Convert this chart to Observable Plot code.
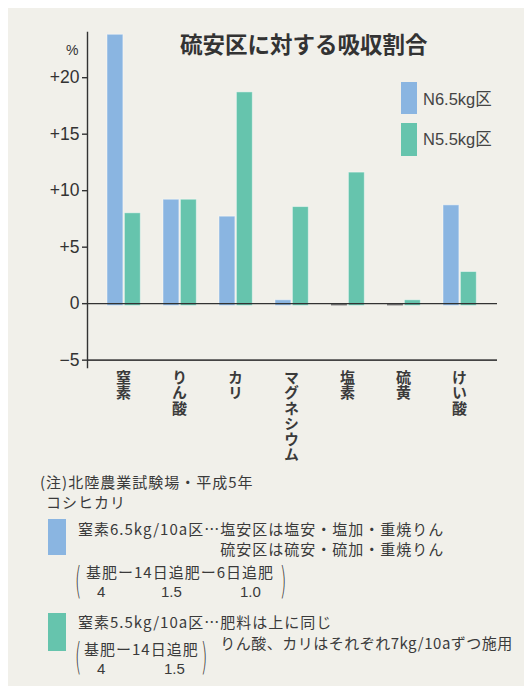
<!DOCTYPE html>
<html>
<head>
<meta charset="utf-8">
<script src="https://cdn.jsdelivr.net/npm/d3@7"></script>
<script src="https://cdn.jsdelivr.net/npm/@observablehq/plot@0.6"></script>
<style>
  html, body { margin: 0; padding: 0; background: #ffffff; }
  #wrap { position: relative; width: 524px; height: 686px; overflow: hidden;
          font-family: "Noto Sans CJK JP", "Noto Sans", sans-serif; color: #333; }
  #panel { position: absolute; left: 8px; top: 8px; right: 0; bottom: 0; background: #f1f0ea; }
  #chart { position: absolute; left: 0; top: 0; }
  .t { position: absolute; white-space: pre; line-height: 16px; }
  .sw { position: absolute; }
  .paren { position: absolute; font-family: "DejaVu Sans", sans-serif; font-weight: 300; font-size: 20px; line-height: 20px; transform: scale(0.8, 1.9); transform-origin: 0 0; color: #333; }
</style>
</head>
<body>
<div id="wrap">
  <div id="panel"></div>
  <div id="chart"></div>
</div>
<script>
// ---- data ----
const categories = ["窒素", "りん酸", "カリ", "マグネシウム", "塩素", "硫黄", "けい酸"];
const seriesNames = ["N6.5kg区", "N5.5kg区"];
const n65 = [23.8, 9.2, 7.7, 0.3, 0, 0, 8.7];
const n55 = [8.0, 9.2, 18.7, 8.55, 11.6, 0.3, 2.8];
const yTicks = [-5, 0, 5, 10, 15, 20];
const yTickLabels = ["−5", "0", "+5", "+10", "+15", "+20"];
const barBase = -0.2;

const blue = "#8ab5e1";
const green = "#66c4ad";
const zeroGray = "#7a7a7a";

const rows65 = categories.map((c, i) => ({cat: c, v: n65[i]}));
const rows55 = categories.map((c, i) => ({cat: c, v: n55[i]}));

const chart = Plot.plot({
  width: 524,
  height: 480,
  marginTop: 32,
  marginBottom: 113,
  marginLeft: 87,
  marginRight: 27,
  style: {background: "transparent", fontFamily: "'Noto Sans CJK JP', sans-serif", color: "#333"},
  x: {domain: categories, range: [93.6, 490.6], padding: 0, axis: null},
  y: {domain: [-5.65, 24], axis: null},
  marks: [
    Plot.barY(rows65, {x: "cat", y1: barBase, y2: "v", fill: d => d.v === 0 ? zeroGray : blue,
      insetLeft: 11, insetRight: 29.1, stroke: "#ffffff", strokeOpacity: d => d.v === 0 ? 0 : 0.45}),
    Plot.barY(rows55, {x: "cat", y1: barBase, y2: "v", fill: green,
      insetLeft: 28.4, insetRight: 11.7, stroke: "#ffffff", strokeOpacity: 0.45}),
    Plot.ruleY([0], {stroke: "#333", strokeWidth: 1.4}),
    Plot.ruleY([-5], {stroke: "#444", strokeWidth: 1.6}),
    Plot.frame({anchor: "left", stroke: "#333", strokeWidth: 1.4}),
    Plot.axisY({ticks: yTicks, tickFormat: (d) => yTickLabels[yTicks.indexOf(d)], tickSize: 5, tickPadding: 3,
      fontSize: 17.5, fontFamily: "'Liberation Sans', Arial, sans-serif", label: null, strokeWidth: 1.4, color: "#333"}),
    Plot.text(categories, {x: d => d, text: d => d, frameAnchor: "bottom",
      textAnchor: "start", lineAnchor: "bottom", dy: 2, dx: -1, fontSize: 15, fontWeight: "bold", fill: "#3a3a3a"})
  ]
});
// vertical (tategaki) writing for the category labels
chart.querySelectorAll('g[aria-label="text"] text').forEach(t => {
  t.style.writingMode = "vertical-rl";
  t.style.textOrientation = "upright";
  t.style.letterSpacing = "0.5px";
});
document.getElementById("chart").appendChild(chart);

// ---- overlay text (title, unit, legend, notes) ----
const wrap = document.getElementById("wrap");
function addText(html, left, centerY, style) {
  const d = document.createElement("div");
  d.className = "t";
  d.style.left = left + "px";
  d.style.top = (centerY - 8) + "px";
  if (style) Object.assign(d.style, style);
  d.innerHTML = html;
  wrap.appendChild(d);
  return d;
}
function addSwatch(color, left, top, w, h) {
  const d = document.createElement("div");
  d.className = "sw";
  Object.assign(d.style, {left: left + "px", top: top + "px", width: w + "px", height: h + "px", background: color});
  wrap.appendChild(d);
}
function addParen(ch, left, top) {
  const d = document.createElement("div");
  d.className = "paren";
  d.style.left = left + "px";
  d.style.top = top + "px";
  d.textContent = ch;
  wrap.appendChild(d);
}

const title = "硫安区に対する吸収割合";
addText(title, 180, 43, {fontSize: "22.5px", fontWeight: "bold", color: "#333", lineHeight: "24px", top: "31px"});
addText("%", 66, 50, {fontSize: "14px", fontFamily: "'Liberation Sans', Arial, sans-serif", color: "#333"});

// legend
const legendStyle = {fontSize: "16.5px", color: "#444", fontFamily: "'Liberation Sans', 'Noto Sans CJK JP', sans-serif", lineHeight: "18px"};
addSwatch(blue, 401, 82, 16, 32);
addText(seriesNames[0], 423, 98, legendStyle);
addSwatch(green, 401, 123, 16, 33);
addText(seriesNames[1], 423, 138, legendStyle);

// notes
const noteStyle = {fontSize: "15px", letterSpacing: "1px", color: "#3a3a3a"};
const numStyle = {fontSize: "15px", color: "#3a3a3a", fontFamily: "'Liberation Sans', Arial, sans-serif"};
const noteSource = "(注)北陸農業試験場・平成5年";
const noteVariety = "コシヒカリ";
const note65a = "窒素6.5kg/10a区…";
const note65b = "塩安区は塩安・塩加・重焼りん";
const note65c = "硫安区は硫安・硫加・重焼りん";
const note65sched = "基肥ー14日追肥ー6日追肥";
const note65amounts = ["4", "1.5", "1.0"];
const note55a = "窒素5.5kg/10a区…";
const note55b = "肥料は上に同じ";
const note55c = "りん酸、カリはそれぞれ7kg/10aずつ施用";
const note55sched = "基肥ー14日追肥";
const note55amounts = ["4", "1.5"];

addText(noteSource, 40, 482, noteStyle);
addText(noteVariety, 46, 502, noteStyle);

function prefixWidth(lineDiv) {
  return lineDiv.querySelector("span").getBoundingClientRect().width;
}

addSwatch(blue, 48, 519, 18, 36);
const l65 = addText('<span>' + note65a + '</span>' + note65b, 78, 529, noteStyle);
addText(note65c, 78 + prefixWidth(l65), 549, noteStyle);
addParen("(", 75, 561);
addText(note65sched, 86, 572, noteStyle);
addText(note65amounts[0], 97, 592, numStyle);
addText(note65amounts[1], 161, 592, numStyle);
addText(note65amounts[2], 240, 592, numStyle);
addParen(")", 280, 561);

addSwatch(green, 48, 613, 18, 38);
const l55 = addText('<span>' + note55a + '</span>' + note55b, 78, 622, noteStyle);
addText(note55c, 78 + prefixWidth(l55), 643, Object.assign({}, noteStyle, {letterSpacing: "0.5px"}));
addParen("(", 75, 637);
addText(note55sched, 84, 649, noteStyle);
addText(note55amounts[0], 97, 669, numStyle);
addText(note55amounts[1], 164, 669, numStyle);
addParen(")", 201, 637);
</script>
</body>
</html>
